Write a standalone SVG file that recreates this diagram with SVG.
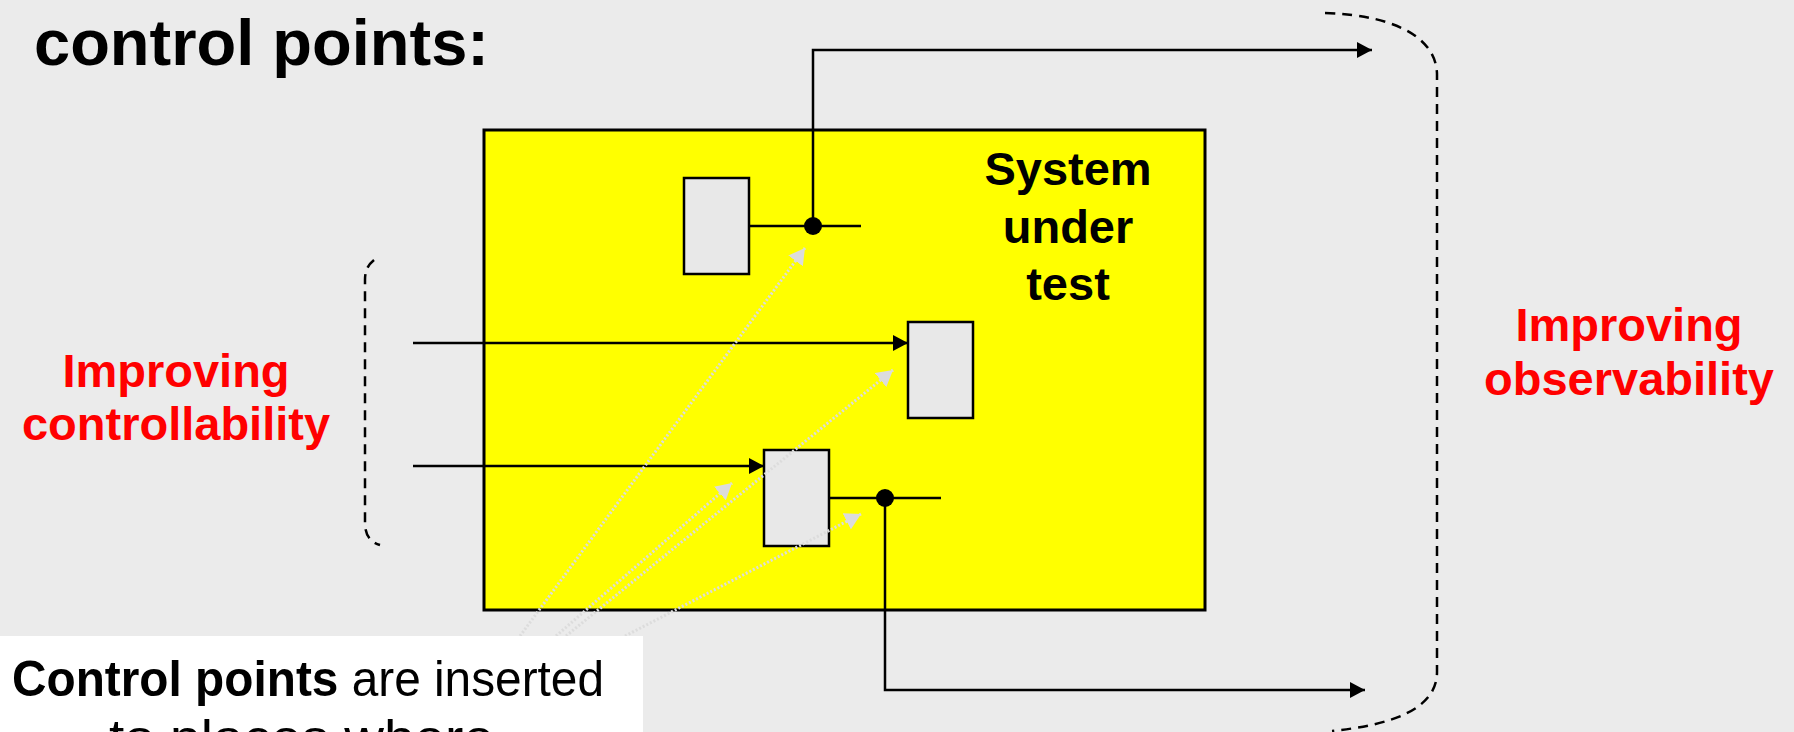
<svg xmlns="http://www.w3.org/2000/svg" width="1794" height="732" viewBox="0 0 1794 732">
<style>
.t{font-family:"Liberation Sans",Arial,sans-serif;font-weight:bold}
.red{fill:#ff0000;font-size:47px;text-anchor:middle}
.blk{fill:#000;font-size:47px;text-anchor:middle}
.box{fill:#e8e8e8;stroke:#000;stroke-width:2.5}
.wire{fill:none;stroke:#000;stroke-width:2.5}
.dash{fill:none;stroke:#000;stroke-width:2.5;stroke-dasharray:10 7}
.dot{fill:none;stroke:#dcdcdc;stroke-width:3;stroke-dasharray:2 2}
.note{font-family:"Liberation Sans",Arial,sans-serif;font-size:50px;fill:#000}
</style>
<defs>
<marker id="ah" markerWidth="16" markerHeight="16" refX="15" refY="8" orient="auto" markerUnits="userSpaceOnUse">
<path d="M0,0 L15,8 L0,16 Z" fill="#000"/>
</marker>
<marker id="gh" markerWidth="18" markerHeight="18" refX="16" refY="9" orient="auto" markerUnits="userSpaceOnUse">
<path d="M0,0 L16,9 L0,18 Z" fill="#dcdcdc"/>
</marker>
</defs>
<rect x="0" y="0" width="1794" height="732" fill="#ebebeb"/>
<text class="t" x="34" y="65" font-size="65px" fill="#000">control points:</text>
<g id="sut">
<rect x="484" y="130" width="721" height="480" fill="#ffff00" stroke="#000" stroke-width="3"/>
<text class="t blk" x="1068" y="185">System</text>
<text class="t blk" x="1068" y="243">under</text>
<text class="t blk" x="1068" y="300">test</text>
</g>
<g id="box1"><rect class="box" x="684" y="178" width="65" height="96"/></g>
<g id="box2"><rect class="box" x="908" y="322" width="65" height="96"/></g>
<g id="box3"><rect class="box" x="764" y="450" width="65" height="96"/></g>
<g id="connectors">
<path class="wire" d="M749,226 L861,226"/>
<path class="wire" d="M813,226 L813,50 L1372,50" marker-end="url(#ah)"/>
<circle cx="813" cy="226" r="9" fill="#000"/>
<path class="wire" d="M413,343 L908,343" marker-end="url(#ah)"/>
<path class="wire" d="M413,466 L764,466" marker-end="url(#ah)"/>
<path class="wire" d="M829,498 L941,498"/>
<path class="wire" d="M885,498 L885,690 L1365,690" marker-end="url(#ah)"/>
<circle cx="885" cy="498" r="9" fill="#000"/>
<path class="dot" d="M520,636 L805,248" marker-end="url(#gh)"/>
<path class="dot" d="M566,636 L893,370" marker-end="url(#gh)"/>
<path class="dot" d="M556,636 L732,483" marker-end="url(#gh)"/>
<path class="dot" d="M625,636 L861,514" marker-end="url(#gh)"/>
</g>
<g id="bracket-left"><path class="dash" d="M374,260 C368,265 365,270 365,280 L365,523 C365,535 370,542 380,545"/></g>
<g id="bracket-right"><path class="dash" d="M1325,13 C1395,15 1437,38 1437,75 L1437,672 C1437,710 1390,725 1332,731"/></g>
<g id="label-ctrl">
<text class="t red" x="176" y="387">Improving</text>
<text class="t red" x="176" y="440">controllability</text>
</g>
<g id="label-obs">
<text class="t red" x="1629" y="341">Improving</text>
<text class="t red" x="1629" y="395">observability</text>
</g>
<g id="note">
<rect x="0" y="636" width="643" height="120" fill="#ffffff"/>
<text class="note" x="12" y="696" textLength="592" lengthAdjust="spacingAndGlyphs"><tspan font-weight="bold">Control points</tspan> are inserted</text>
<text class="note" x="109" y="755" textLength="385" lengthAdjust="spacingAndGlyphs">to places where</text>
</g>
</svg>
